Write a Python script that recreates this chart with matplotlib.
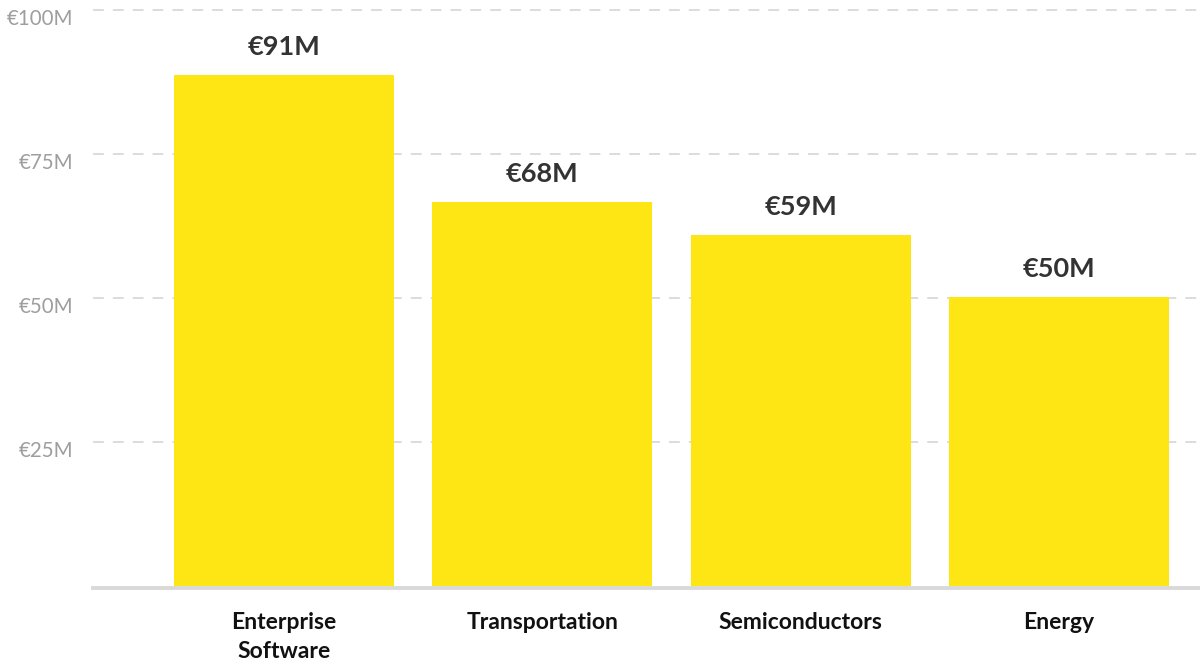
import matplotlib
matplotlib.use("Agg")
import matplotlib.pyplot as plt
import matplotlib.transforms as mtransforms

categories = ["Enterprise\nSoftware", "Transportation", "Semiconductors", "Energy"]
values = [88.7, 66.7, 60.9, 50.2]
value_labels = ["€91M", "€68M", "€59M", "€50M"]
yticks = [25, 50, 75, 100]
ytick_labels = ["€25M", "€50M", "€75M", "€100M"]

plt.rcParams['font.family'] = ['Lato', 'DejaVu Sans']

W, H = 1200, 661
fig = plt.figure(figsize=(W / 100, H / 100), dpi=100)
ax_left, ax_right = 93, 1200
ax_bottom_px, ax_top_px = 586, 0
ax = fig.add_axes([ax_left / W, (H - ax_bottom_px) / H,
                   (ax_right - ax_left) / W, (ax_bottom_px - ax_top_px) / H])

px_per_unit = 258.3
center0 = 284
ax.set_xlim((ax_left - center0) / px_per_unit, (ax_right - center0) / px_per_unit)
ppm = 5.76
ax.set_ylim(0, (ax_bottom_px - ax_top_px) / ppm)

xs = list(range(len(categories)))
ax.bar(xs, values, width=220 / px_per_unit, color="#FEE615", zorder=2)

for x, v, lab in zip(xs, values, value_labels):
    ax.annotate(lab, (x, v), xytext=(0, 11.5), textcoords="offset points",
                ha="center", va="bottom", fontsize=19.5, fontweight="bold",
                color="#333333")

ax.set_yticks(yticks)
ax.set_yticklabels(ytick_labels)
ax.yaxis.grid(True, color="#d9d9d9", linewidth=1.3, dashes=(6, 5))
ax.set_axisbelow(True)
ax.tick_params(axis="y", length=0, pad=14, labelsize=14.8, labelcolor="#9e9e9e")
offset = mtransforms.ScaledTranslation(0, -7 / 100, fig.dpi_scale_trans)
for t in ax.get_yticklabels():
    t.set_transform(t.get_transform() + offset)

ax.set_xticks(xs)
ax.tick_params(axis="x", length=0, labelbottom=False)
xlab_trans = ax.get_xaxis_transform() + mtransforms.ScaledTranslation(
    0, -26 / 100, fig.dpi_scale_trans)
for x, cat in zip(xs, categories):
    ax.text(x, 0, cat, transform=xlab_trans, ha="center", va="top",
            fontsize=16.5, fontweight="bold", color="#111111",
            linespacing=1.45, multialignment="center")

for s in ["top", "right", "left"]:
    ax.spines[s].set_visible(False)
ax.spines["bottom"].set_color("#d9d9d9")
ax.spines["bottom"].set_linewidth(2.8)
ax.spines["bottom"].set_position(("outward", 1.5))

fig.savefig("out.png", dpi=100, facecolor="white")
